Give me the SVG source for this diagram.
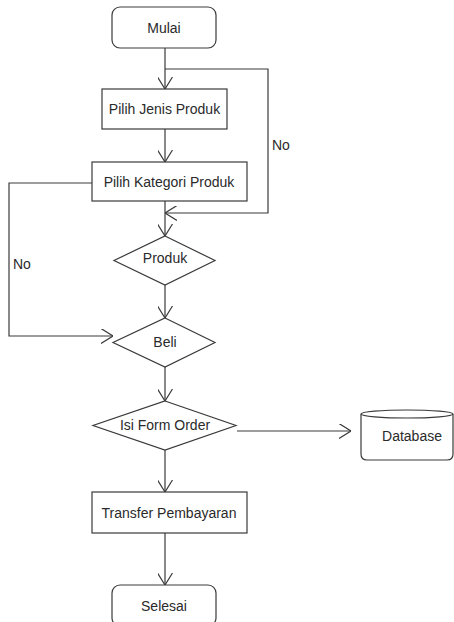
<svg xmlns="http://www.w3.org/2000/svg" width="454" height="622" viewBox="0 0 454 622">
  <style>
    .shape { fill: #ffffff; stroke: #3a3a3a; stroke-width: 1.2; }
    .edge { fill: none; stroke: #3a3a3a; stroke-width: 1.2; marker-end: url(#arrow); }
    .line { fill: none; stroke: #3a3a3a; stroke-width: 1.2; }
    .label { font-family: "Liberation Sans", Arial, sans-serif; font-size: 14px; fill: #2a2a2a; text-anchor: middle; }
    .note { font-family: "Liberation Sans", Arial, sans-serif; font-size: 14px; fill: #2a2a2a; }
  </style>
  <defs>
    <marker id="arrow" viewBox="0 0 12 15" refX="12" refY="7.5" markerWidth="12" markerHeight="15" markerUnits="userSpaceOnUse" orient="auto">
      <path d="M0,0 L12,7.5 L0,15" fill="none" stroke="#3a3a3a" stroke-width="1.2"/>
    </marker>
  </defs>
  <rect width="454" height="622" fill="#ffffff"/>

  <g id="connectors">
    <path class="edge" d="M165,48 V89"/>
    <path class="edge" d="M165,69 H268 V213 H165"/>
    <path class="edge" d="M165,129 V162"/>
    <path class="edge" d="M165,201 V236"/>
    <path class="edge" d="M165,285 V318"/>
    <path class="edge" d="M92,183 H9 V336 H113"/>
    <path class="edge" d="M165,367 V401"/>
    <path class="edge" d="M237,431 H351"/>
    <path class="edge" d="M165,450 V492"/>
    <path class="edge" d="M165,533 V585"/>
    <text class="note" x="272" y="150">No</text>
    <text class="note" x="13" y="269">No</text>
  </g>

  <g id="mulai">
    <rect class="shape" x="112" y="7" width="104" height="41" rx="8"/>
    <text class="label" x="164" y="33">Mulai</text>
  </g>

  <g id="pilih-jenis-produk">
    <rect class="shape" x="102" y="89" width="125" height="40"/>
    <text class="label" x="164.5" y="114">Pilih Jenis Produk</text>
  </g>

  <g id="pilih-kategori-produk">
    <rect class="shape" x="92" y="162" width="155" height="39"/>
    <text class="label" x="169" y="187">Pilih Kategori Produk</text>
  </g>

  <g id="produk">
    <polygon class="shape" points="165,236 215,260.5 165,285 114,260.5"/>
    <text class="label" x="165" y="263">Produk</text>
  </g>

  <g id="beli">
    <polygon class="shape" points="165,318 215,342.5 165,367 113,342.5"/>
    <text class="label" x="165" y="347">Beli</text>
  </g>

  <g id="isi-form-order">
    <polygon class="shape" points="165,401 236,425.5 165,450 93,425.5"/>
    <text class="label" x="165" y="430">Isi Form Order</text>
  </g>

  <g id="database">
    <path class="shape" d="M361,414 A46,4 0 0 1 453,414 V454 Q453,460 447,460 H367 Q361,460 361,454 Z"/>
    <path class="line" d="M361,414 A46,4 0 0 0 453,414"/>
    <text class="label" x="412" y="441">Database</text>
  </g>

  <g id="transfer-pembayaran">
    <rect class="shape" x="92" y="492" width="155" height="41"/>
    <text class="label" x="169" y="518">Transfer Pembayaran</text>
  </g>

  <g id="selesai">
    <rect class="shape" x="112" y="585" width="104" height="41" rx="8"/>
    <text class="label" x="164" y="611">Selesai</text>
  </g>
</svg>
